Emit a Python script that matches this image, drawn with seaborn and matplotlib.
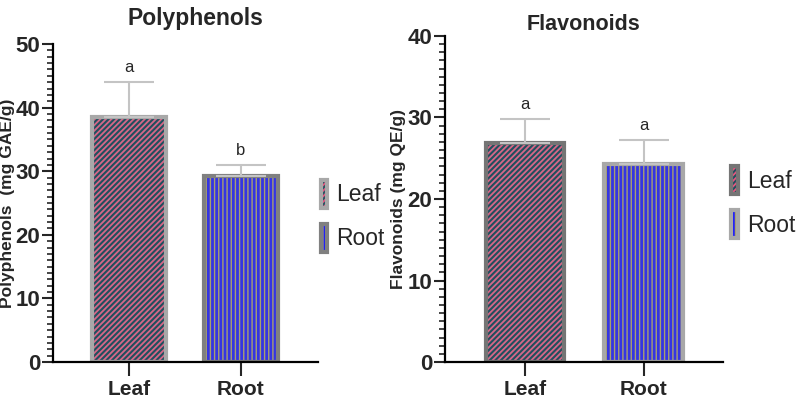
import numpy as np
import pandas as pd
import matplotlib
matplotlib.use("Agg")
import matplotlib.pyplot as plt
import seaborn as sns
from matplotlib.patches import Patch
from matplotlib.ticker import MultipleLocator

# datos
partes = ["Leaf", "Root"]
polifenoles = [38.5, 29.2]
polifenoles_sd = [5.5, 1.8]
flavonoides = [26.9, 24.3]
flavonoides_sd = [2.9, 3.0]
letras_poli = ["a", "b"]
letras_flav = ["a", "a"]

sns.set_theme(style="ticks")
plt.rcParams["font.family"] = ["Liberation Sans", "DejaVu Sans"]
plt.rcParams["hatch.linewidth"] = 1.4

colores = {"Leaf": "#e8557f", "Root": "#1818ff"}
rayas = {"Leaf": "//////", "Root": "||||"}
color_raya = {"Leaf": "#1f4f5e", "Root": "#a8a070"}
grosor_raya = {"Leaf": 1.5, "Root": 1.0}


def pintar_rayas(parche, p):
    parche.set_hatch(rayas[p])
    parche._hatch_color = matplotlib.colors.to_rgba(color_raya[p])
    if hasattr(parche, "_hatch_linewidth"):
        parche._hatch_linewidth = grosor_raya[p]


def graficar_panel(ax, valores, sd, letras, titulo, etiqueta_y, ymax, bordes, xlim,
                   pos_leyenda, x_etiqueta, titulo_x, titulo_pad, titulo_size):
    df = pd.DataFrame({"parte": partes, "valor": valores})
    sns.barplot(data=df, x="parte", y="valor", hue="parte", palette=colores,
                width=0.66, errorbar=None, legend=False, ax=ax)
    for barra, p in zip(ax.patches, partes):
        barra.set_edgecolor(bordes[p])
        barra.set_linewidth(3)
        pintar_rayas(barra, p)
    # barras de error solo hacia arriba
    x = np.arange(len(partes))
    ax.errorbar(x, valores, yerr=[np.zeros(len(sd)), sd], fmt="none",
                ecolor="#c4c4c4", elinewidth=1.5, capsize=18, capthick=1.5, zorder=1)
    for xi, v, s, l in zip(x, valores, sd, letras):
        ax.annotate(l, (xi, v + s), xytext=(0, 5), textcoords="offset points",
                    ha="center", va="bottom", fontsize=12)

    ax.set_ylim(0, ymax)
    ax.set_xlim(*xlim)
    ax.yaxis.set_major_locator(MultipleLocator(10))
    ax.yaxis.set_minor_locator(MultipleLocator(1))
    ax.tick_params(axis="y", which="major", length=8, width=1.5, labelsize=16, pad=1)
    ax.tick_params(axis="y", which="minor", length=4, width=1.2)
    ax.tick_params(axis="x", which="major", length=10, width=1.5, labelsize=15, pad=3)
    for t in ax.get_xticklabels() + ax.get_yticklabels():
        t.set_fontweight("bold")
    for s in ["left", "bottom"]:
        ax.spines[s].set_linewidth(1.6)
        ax.spines[s].set_color("black")
    sns.despine(ax=ax)
    ax.set_xlabel("")
    ax.set_ylabel(etiqueta_y, fontsize=12.5, fontweight="bold")
    ax.yaxis.set_label_coords(x_etiqueta, 0.5)
    ax.set_title(titulo, fontsize=titulo_size, fontweight="bold", pad=titulo_pad, x=titulo_x)

    manijas = [Patch(facecolor=colores[p], edgecolor=bordes[p], linewidth=3, label=p)
               for p in partes]
    leg = ax.legend(handles=manijas, loc="center left", bbox_to_anchor=pos_leyenda,
                    frameon=False, fontsize=16.5, handlelength=0.3, handleheight=1.5,
                    handletextpad=0.4, labelspacing=0.7, borderaxespad=0, borderpad=0)
    for h, p in zip(leg.legend_handles, partes):
        pintar_rayas(h, p)


fig = plt.figure(figsize=(7.98, 4.03), dpi=100)
ax1 = fig.add_axes([0.0664, 0.1017, 0.332, 0.789])
ax2 = fig.add_axes([0.5576, 0.1017, 0.3484, 0.809])

graficar_panel(ax1, polifenoles, polifenoles_sd, letras_poli, "Polyphenols",
               "Polyphenols  (mg GAE/g)", 50, {"Leaf": "#a8a8a8", "Root": "#808080"},
               (-0.68, 1.69), (1.01, 0.46), -0.145, 0.536, 14, 16.5)
graficar_panel(ax2, flavonoides, flavonoides_sd, letras_flav, "Flavonoids",
               "Flavonoids (mg QE/g)", 40, {"Leaf": "#757575", "Root": "#a8a8a8"},
               (-0.675, 1.67), (1.03, 0.49), -0.14, 0.5, 4, 15.5)

fig.savefig("out.png", dpi=100)
